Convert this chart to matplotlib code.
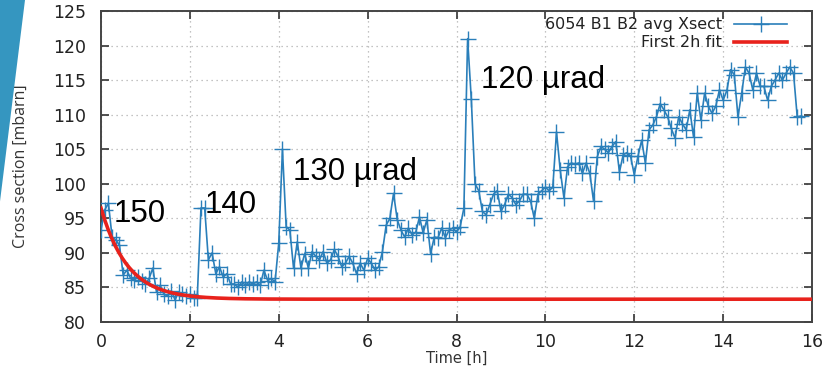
import numpy as np
import matplotlib
matplotlib.use("Agg")
import matplotlib.pyplot as plt
from matplotlib.patches import Polygon

# measured cross section, one point every 5 minutes
xsect = [
    93.3, 96.2, 97.2, 92.3, 91.9, 91.1, 86.8, 87.5, 86.3, 86.1, 86.5, 86.0,
    85.5, 86.3, 87.8, 84.3, 85.3, 84.0, 83.8, 84.5, 83.2, 84.3, 84.0, 83.8,
    84.0, 83.5, 83.5, 96.5, 96.5, 89.0, 90.0, 87.0, 88.0, 86.5, 87.0, 85.5,
    85.5, 85.0, 85.8, 85.3, 85.8, 85.5, 85.8, 85.3, 87.5, 86.0, 86.3, 85.8,
    91.4, 105.0, 93.8, 93.3, 87.8, 91.6, 87.8, 89.9, 87.8, 90.2, 89.5, 89.0,
    90.2, 88.5, 89.0, 90.5, 89.5, 88.0, 88.5, 89.5, 88.5, 87.0, 88.5, 87.5,
    89.2, 88.5, 87.5, 88.0, 90.2, 94.0, 95.0, 98.6, 94.8, 93.3, 92.3, 93.6,
    92.6, 93.0, 95.2, 92.9, 94.8, 89.9, 92.3, 92.2, 93.6, 92.2, 93.3, 93.6,
    93.0, 93.8, 96.5, 121.0, 112.2, 100.0, 99.0, 96.0, 95.5, 97.0, 98.5, 99.0,
    96.0, 97.0, 98.5, 98.0, 97.0, 97.5, 98.5, 98.5, 97.5, 95.0, 98.5, 99.0,
    99.5, 99.0, 99.5, 107.5, 102.0, 98.0, 102.5, 103.0, 102.8, 103.0, 101.5, 103.0,
    101.5, 97.5, 103.9, 105.4, 105.0, 104.5, 105.4, 106.1, 101.7, 104.2, 104.5, 104.0,
    101.3, 104.0, 106.3, 103.0, 107.8, 108.5, 109.7, 111.6, 110.7, 109.7, 108.0, 106.6,
    109.7, 108.7, 107.8, 110.7, 106.8, 113.1, 109.2, 113.1, 111.2, 110.2, 111.2, 113.6,
    112.1, 113.5, 116.5, 115.8, 109.7, 113.1, 116.9, 116.0, 113.6, 116.0, 114.1, 114.1,
    112.1, 114.1, 115.0, 116.0, 115.0, 116.0, 116.9, 116.0, 109.7, 109.8,
]
step_h = 5 / 60.0

# exponential fit to the first two hours
fit_offset = 83.3
fit_amp = 13.2
fit_tau = 0.6

labels = ["150", "140", "130 µrad", "120 µrad"]
label_x = [0.28, 2.34, 4.31, 8.54]
label_y = [94.5, 95.8, 100.6, 113.8]

t = np.arange(len(xsect)) * step_h
t_fit = np.linspace(0, 16, 400)
fit = fit_offset + fit_amp * np.exp(-t_fit / fit_tau)

fig = plt.figure(figsize=(8.27, 3.73), dpi=100)
ax = fig.add_axes([0.1221, 0.1367, 0.8598, 0.8338])

# slide decoration on the left edge
fig.patches.append(Polygon([[0, 1], [25 / 827, 1], [0, 0.46]], closed=True,
                           transform=fig.transFigure, facecolor="#3596c0",
                           edgecolor="none", zorder=0))

ax.plot(t, xsect, color="#2a7fba", lw=1.2, marker="+", ms=12, mew=1.0,
        label="6054 B1 B2 avg Xsect", zorder=3)
ax.plot(t_fit, fit, color="#e8221c", lw=2.6, label="First 2h fit", zorder=4)

for s, x, y in zip(labels, label_x, label_y):
    ax.text(x, y, s, fontsize=22.5, family="Liberation Sans", color="black",
            ha="left", va="baseline", zorder=5)

ax.set_xlim(0, 16)
ax.set_ylim(80, 125)
ax.set_xticks(np.arange(0, 17, 2))
ax.set_yticks(np.arange(80, 126, 5))
ax.grid(True, color="#b0b0b0", ls=(0, (1, 3)), lw=0.9)
ax.tick_params(direction="in", length=6, width=1.2, top=True, right=True,
               labelsize=12.5, colors="#333333", labelcolor="#222222")
ax.tick_params(axis="y", pad=11)
ax.tick_params(axis="x", pad=8)
for sp in ax.spines.values():
    sp.set_color("#444444")
    sp.set_linewidth(1.4)

ax.set_xlabel("Time [h]", fontsize=10.5, color="#333333", labelpad=0)
ax.set_ylabel("Cross section [mbarn]", fontsize=11.5, family="Open Sans",
              color="#333333", labelpad=17)

leg = ax.legend(loc="upper right", bbox_to_anchor=(0.965, 0.98),
                frameon=False, markerfirst=False, fontsize=11.5,
                handlelength=3.3, borderaxespad=0, borderpad=0,
                labelspacing=0.2)
for txt in leg.get_texts():
    txt.set_color("#222222")

fig.savefig("out.png", dpi=100)
